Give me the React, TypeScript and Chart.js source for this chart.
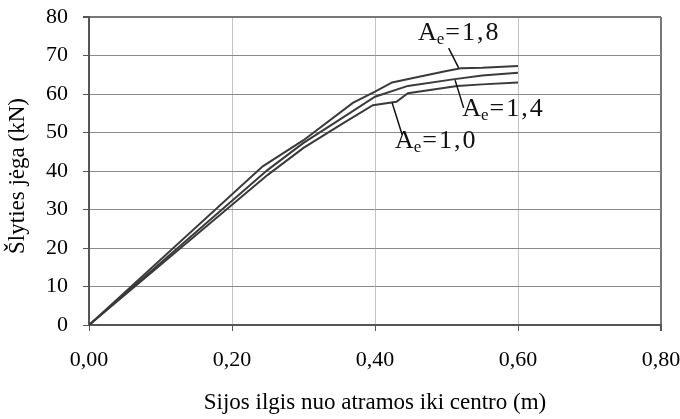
import React, { useEffect, useRef } from "react";
import { Chart, registerables } from "chart.js";

Chart.register(...registerables);

const xTicks = [0, 0.2, 0.4, 0.6, 0.8];
const ae18X = [0, 0.243, 0.3, 0.369, 0.4, 0.424, 0.45, 0.5, 0.52, 0.55, 0.6];
const ae18Y = [0, 41.2, 48, 57.7, 60.6, 63, 64, 66, 66.7, 66.8, 67.3];
const ae14X = [0, 0.25, 0.3, 0.35, 0.4, 0.446, 0.509, 0.55, 0.6];
const ae14Y = [0, 40.3, 47.3, 53.3, 59.3, 62.1, 63.8, 64.8, 65.5];
const ae10X = [0, 0.25, 0.3, 0.35, 0.397, 0.43, 0.446, 0.515, 0.55, 0.6];
const ae10Y = [0, 39, 46, 51.8, 57.1, 58, 60.2, 62.1, 62.5, 63];

const labelValues = ["1,8", "1,4", "1,0"];
const labelX = [0.46, 0.522, 0.428];
const labelY = [74, 54.3, 46];
const leaderFromX = [0.503, 0.512, 0.424];
const leaderFromY = [71.9, 63.6, 57.7];
const leaderToX = [0.517, 0.524, 0.438];
const leaderToY = [66.8, 56.4, 49.4];

const yTitle = "Šlyties jėga (kN)";
const xTitle = "Sijos ilgis nuo atramos iki centro (m)";

const toPts = (xs: number[], ys: number[]) => xs.map((x, i) => ({ x, y: ys[i] }));

const SERIF = "'Liberation Serif', 'Times New Roman', serif";

const annotPlugin = {
  id: "annot",
  afterDraw(chart: any) {
    const { ctx, scales } = chart;
    const xs = scales.x;
    const ys = scales.y;
    ctx.save();
    ctx.save();
    ctx.translate(18, ys.getPixelForValue(38.7));
    ctx.rotate(-Math.PI / 2);
    ctx.textAlign = "center";
    ctx.textBaseline = "middle";
    ctx.fillStyle = "#000";
    ctx.font = `23px ${SERIF}`;
    ctx.fillText(yTitle, 0, 0);
    ctx.restore();

    ctx.strokeStyle = "#111";
    ctx.lineWidth = 1.5;
    ctx.fillStyle = "#111";
    for (let i = 0; i < labelValues.length; i++) {
      ctx.beginPath();
      ctx.moveTo(xs.getPixelForValue(leaderFromX[i]), ys.getPixelForValue(leaderFromY[i]));
      ctx.lineTo(xs.getPixelForValue(leaderToX[i]), ys.getPixelForValue(leaderToY[i]));
      ctx.stroke();
      let px = xs.getPixelForValue(labelX[i]);
      const py = ys.getPixelForValue(labelY[i]);
      ctx.textBaseline = "alphabetic";
      ctx.textAlign = "left";
      ctx.font = `26px ${SERIF}`;
      ctx.fillText("A", px, py);
      px += ctx.measureText("A").width;
      ctx.font = `17px ${SERIF}`;
      ctx.fillText("e", px, py + 4);
      px += ctx.measureText("e").width + 1;
      ctx.font = `26px ${SERIF}`;
      (ctx as any).letterSpacing = "2px";
      ctx.fillText("=" + labelValues[i], px, py);
      (ctx as any).letterSpacing = "0px";
    }
    ctx.restore();
  },
};

export default function App() {
  const ref = useRef<HTMLCanvasElement>(null);
  useEffect(() => {
    document.body.style.margin = "0";
    const lineStyle = {
      borderColor: "#3a3a3a",
      borderWidth: 2,
      pointRadius: 0,
      tension: 0,
      fill: false,
    };
    const chart = new Chart(ref.current!, {
      type: "line",
      data: {
        datasets: [
          { label: "Ae=1,8", data: toPts(ae18X, ae18Y), ...lineStyle },
          { label: "Ae=1,4", data: toPts(ae14X, ae14Y), ...lineStyle },
          { label: "Ae=1,0", data: toPts(ae10X, ae10Y), ...lineStyle },
        ],
      },
      options: {
        animation: false,
        responsive: false,
        layout: { padding: { top: 17, right: 19, left: 0, bottom: 0 } },
        plugins: { legend: { display: false }, tooltip: { enabled: false } },
        scales: {
          x: {
            type: "linear",
            min: 0,
            max: 0.8,
            afterBuildTicks: (s: any) => {
              s.ticks = xTicks.map((v) => ({ value: v }));
            },
            afterFit: (s: any) => {
              s.height = 94;
              s.paddingLeft = 0;
              s.paddingRight = 0;
            },
            grid: {
              color: (c: any) => (c.index === xTicks.length - 1 ? "#777" : "#c4c4c4"),
              lineWidth: (c: any) => (c.index === xTicks.length - 1 ? 2 : 1),
              tickLength: 6,
              tickColor: "#555",
            },
            border: { color: "#555", width: 2 },
            ticks: {
              color: "#000",
              font: { family: SERIF, size: 22 },
              padding: 16,
              maxRotation: 0,
              callback: (v: any) => Number(v).toFixed(2).replace(".", ","),
            },
            title: {
              display: true,
              text: xTitle,
              color: "#000",
              font: { family: SERIF, size: 23 },
              padding: { top: 0, bottom: 2 },
            },
          },
          y: {
            min: 0,
            max: 80,
            ticks: {
              stepSize: 10,
              color: "#000",
              font: { family: SERIF, size: 22 },
              padding: 15,
            },
            afterFit: (s: any) => {
              s.width = 89;
              s.paddingTop = 0;
              s.paddingBottom = 0;
            },
            grid: {
              color: (c: any) => (c.index === 8 ? "#777" : "#8a8a8a"),
              lineWidth: (c: any) => (c.index === 8 ? 2 : 1),
              tickLength: 6,
              tickColor: "#555",
            },
            border: { color: "#555", width: 2 },
            title: { display: false },
          },
        },
      },
      plugins: [annotPlugin],
    });
    return () => chart.destroy();
  }, []);
  return (
    <div style={{ position: "absolute", left: 0, top: 0, width: 680, height: 419, background: "#fff" }}>
      <canvas ref={ref} width={680} height={419} />
    </div>
  );
}
